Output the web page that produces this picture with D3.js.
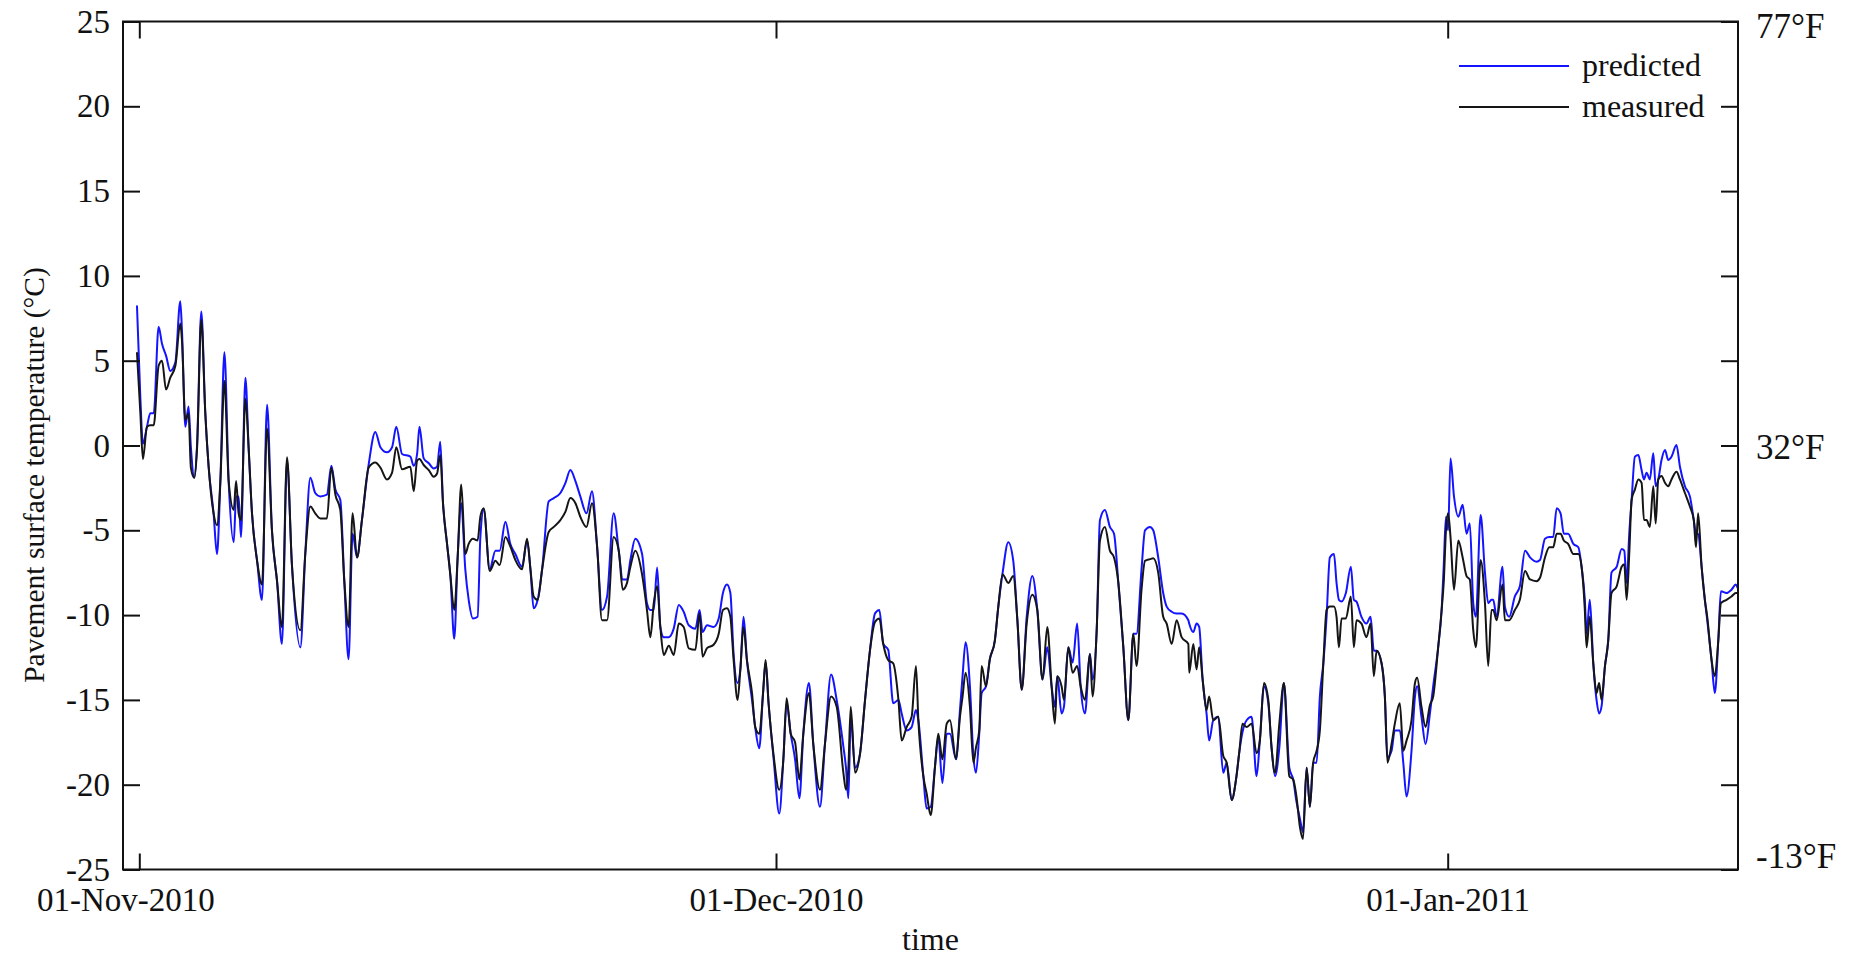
<!DOCTYPE html>
<html><head><meta charset="utf-8">
<script src="https://cdn.jsdelivr.net/npm/d3@7"></script>
<style>
body{margin:0;background:#fff}
svg{display:block}
text{font-family:"Liberation Serif","Times New Roman",serif;fill:#111}
</style>
</head><body><svg id="chart" width="1858" height="957"></svg>
<script>
// time in days since 01-Nov-2010 00:00
const days = [
-0.11,0.05,0.17,0.36,0.52,0.68,0.91,1.07,1.26,1.46,1.70,1.93,2.01,2.17,2.32,2.43,2.59,2.72,2.92,3.11,3.27,3.50,3.66,3.82,4.01,4.21,4.45,4.56,4.68,4.79,5.00,5.15,5.31,5.55,5.78,6.02,6.25,6.49,6.72,6.96,7.19,7.59,7.82,8.06,8.29,8.53,8.84,9.05,9.24,9.47,9.66,9.86,10.05,10.26,10.49,10.81,11.12,11.36,11.67,11.91,12.11,12.38,
12.77,12.93,13.09,13.20,13.40,13.64,13.87,14.03,14.18,14.31,14.50,14.66,14.84,15.00,15.17,15.36,15.52,15.72,15.94,16.07,16.23,16.51,16.78,16.98,17.25,17.48,17.72,18.03,18.27,18.43,18.58,18.77,18.98,19.29,19.53,19.84,20.08,20.31,20.55,20.78,21.07,21.33,21.57,21.80,22.04,22.35,22.59,22.78,22.98,23.14,23.37,23.69,23.92,24.08,24.24,24.40,24.55,24.71,24.95,25.18,25.42,25.65,25.89,
26.20,26.40,26.54,26.75,27.06,27.30,27.50,27.69,27.85,28.00,28.19,28.32,28.47,28.63,28.87,29.02,29.21,29.39,29.51,29.65,29.89,30.15,30.34,30.49,30.68,30.88,31.08,31.26,31.52,31.72,32.03,32.26,32.54,32.80,33.11,33.23,33.34,33.45,33.65,33.88,34.11,34.34,34.57,34.77,34.95,35.18,35.41,35.65,35.80,36.03,36.26,36.46,36.57,36.80,36.95,37.14,37.34,37.49,37.68,37.88,38.03,38.31,38.49,38.61,38.75,38.95,
39.11,39.23,39.38,39.49,39.69,39.87,40.10,40.26,40.46,40.72,40.95,41.14,41.34,41.57,41.83,42.06,42.30,42.52,42.72,42.87,42.98,43.18,43.29,43.49,43.69,43.90,44.06,44.26,44.49,44.61,44.80,44.95,45.18,45.41,45.60,45.80,46.03,46.26,46.49,46.64,46.87,47.03,47.26,47.41,47.64,47.87,48.03,48.26,48.49,48.72,49.03,49.07,49.26,49.41,49.53,49.69,49.87,49.99,50.18,50.41,50.64,50.80,51.03,51.23,51.38,51.53,51.72,
51.95,52.18,52.33,52.52,52.72,52.87,53.03,53.23,53.44,53.69,53.87,54.02,54.18,54.32,54.49,54.64,54.79,54.95,55.10,55.26,55.41,55.56,55.75,55.87,55.98,56.10,56.30,56.53,56.67,56.79,57.02,57.25,57.44,57.59,57.72,57.95,58.10,58.22,58.41,58.56,58.79,58.95,59.10,59.33,59.49,59.59,59.79,59.98,60.18,60.33,60.56,60.72,60.82,60.92,61.02,61.13,61.29,61.49,61.69,61.87,62.02,62.18,62.30,62.52,62.72,62.87,63.02,
63.10,63.26,63.53,63.64,63.84,64.10,64.33,64.57,64.80,65.10,65.26,65.49,65.69,65.87,66.03,66.21,66.36,66.56,66.80,67.03,67.18,67.33,67.41,67.56,67.72,67.87,67.99,68.10,68.26,68.41,68.56,68.80,69.03,69.15,69.26,69.38,69.49,69.64,69.80,69.95,70.06,70.18,70.33,70.49,70.60,70.72,70.87,71.03,71.18,71.33,71.56,71.72,71.95,72.18,72.36,72.46,72.56,72.72,72.87,72.98,73.18,73.33,73.49,73.61,73.87,74.10,74.30,74.38
];
const predicted = [
8.25,2.8,0.1,1.1,1.9,1.9,7.0,6.0,5.3,4.4,4.9,8.5,6.8,1.1,2.3,-0.1,-1.9,0.0,7.9,1.9,-1.3,-4.0,-6.4,-2.1,5.5,-2.1,-5.7,-3.0,-3.0,-5.4,4.0,-0.1,-4.0,-6.8,-9.1,2.4,-5.0,-8.0,-11.7,-0.9,-7.0,-11.9,-6.4,-1.9,-2.8,-3.0,-2.9,-1.2,-2.6,-3.2,-8.0,-12.6,-5.2,-6.6,-4.4,-1.1,0.8,-0.1,-0.4,-0.1,1.1,-0.5,
-0.66,-1.2,-0.5,1.1,-0.76,-1.05,-1.35,-1.25,0.22,-3.4,-5.8,-7.7,-11.4,-6.6,-3.4,-7.3,-9.1,-10.2,-10.1,-5.4,-3.8,-7.3,-6.2,-6.2,-4.5,-5.8,-6.4,-7.15,-5.6,-7.3,-9.6,-9.1,-7.3,-3.3,-3.1,-2.8,-2.2,-1.45,-2.1,-3.0,-4.0,-2.7,-5.95,-9.7,-8.9,-4.0,-6.2,-7.9,-7.9,-6.75,-5.5,-6.4,-9.3,-9.7,-9.7,-7.2,-10.7,-11.3,-11.3,-10.8,-9.4,-9.8,-10.6,
-10.8,-9.7,-11.0,-10.6,-10.7,-10.2,-8.7,-8.2,-8.7,-12.25,-14.0,-13.2,-10.1,-12.65,-15.0,-16.6,-17.85,-14.6,-12.8,-15.2,-18.5,-21.7,-18.5,-15.2,-17.0,-18.5,-20.8,-17.0,-14.0,-17.6,-21.3,-17.6,-13.5,-15.0,-17.75,-19.0,-20.8,-16.0,-19.0,-18.15,-15.0,-12.05,-9.9,-9.7,-11.7,-12.05,-15.2,-15.0,-15.8,-16.8,-16.6,-15.6,-16.2,-19.5,-21.4,-21.3,-18.9,-17.2,-19.9,-17.0,-17.0,-18.5,-15.6,-13.6,-11.6,-14.2,
-18.3,-19.3,-17.0,-14.6,-14.2,-12.6,-11.5,-9.5,-7.5,-5.7,-6.8,-10.3,-14.4,-10.1,-7.7,-9.7,-13.8,-11.9,-14.2,-15.4,-13.6,-15.8,-15.4,-11.9,-12.8,-10.5,-14.2,-15.8,-12.3,-13.8,-10.9,-4.4,-3.8,-4.8,-5.2,-8.1,-11.9,-16.2,-11.1,-11.1,-7.3,-5.0,-4.8,-5.0,-6.6,-8.7,-9.5,-9.8,-9.9,-9.9,-10.3,-10.5,-11.0,-10.5,-10.7,-13.8,-15.8,-17.4,-16.2,-16.0,-19.3,-18.7,-20.9,-19.7,-18.1,-16.9,-16.2,
-16.0,-19.5,-17.4,-14.2,-15.2,-17.8,-19.5,-17.8,-14.0,-19.0,-19.7,-21.0,-22.0,-22.8,-19.0,-21.3,-18.7,-18.7,-14.8,-12.85,-10.1,-6.6,-6.4,-8.1,-9.1,-9.2,-8.7,-7.15,-9.1,-9.2,-10.1,-10.5,-10.1,-12.1,-12.1,-12.85,-14.8,-18.4,-18.0,-16.8,-16.8,-18.7,-20.7,-18.0,-14.8,-14.2,-16.0,-17.6,-15.8,-14.2,-11.9,-9.7,-7.0,-4.2,-5.0,-0.76,-3.0,-4.2,-3.5,-5.2,-4.6,-9.3,-10.1,-4.1,-7.5,-9.3,-9.1,
-9.1,-10.1,-7.15,-9.5,-10.1,-8.9,-8.3,-6.2,-6.6,-6.85,-6.75,-5.5,-5.4,-5.4,-3.7,-4.0,-5.2,-5.2,-5.8,-6.0,-7.15,-9.1,-11.1,-9.1,-12.85,-15.0,-15.8,-15.4,-13.0,-11.5,-7.5,-7.15,-6.1,-6.2,-8.1,-5.2,-3.2,-0.66,-0.56,-1.45,-2.0,-1.6,-2.0,-0.46,-2.4,-2.0,-0.86,-0.27,-0.86,-0.66,0.03,-1.25,-2.4,-3.0,-4.4,-5.2,-5.2,-7.15,-9.1,-10.3,-12.65,-14.6,-11.5,-8.6,-8.7,-8.5,-8.2,-8.4
];
const measured = [
5.5,1.9,-0.8,1.1,1.2,1.2,4.7,5.0,3.3,4.0,4.7,7.2,6.2,1.5,1.9,-1.3,-1.9,-0.2,7.4,1.9,-1.3,-4.0,-4.7,-2.1,3.8,-2.1,-3.8,-2.1,-4.0,-4.4,2.75,-0.1,-4.0,-6.8,-8.2,1.0,-5.0,-8.0,-10.7,-0.7,-7.0,-10.9,-6.4,-3.6,-4.0,-4.3,-4.3,-1.3,-2.9,-3.8,-8.0,-10.7,-4.0,-6.6,-4.4,-1.3,-1.0,-1.3,-2.0,-1.6,-0.1,-1.4,
-1.25,-2.7,-0.9,-0.8,-1.15,-1.45,-1.84,-1.65,-0.56,-3.4,-5.8,-7.7,-9.7,-6.6,-2.3,-6.4,-5.8,-5.5,-5.6,-4.2,-3.7,-7.4,-6.8,-7.05,-5.4,-5.95,-6.75,-7.3,-5.5,-7.3,-8.9,-9.1,-7.3,-5.1,-4.8,-4.4,-3.9,-3.1,-3.4,-4.2,-4.8,-3.4,-5.95,-10.3,-10.3,-5.4,-6.2,-8.5,-8.1,-7.15,-6.2,-7.6,-9.7,-11.3,-9.3,-8.3,-10.7,-12.35,-11.8,-12.35,-10.5,-10.7,-11.96,
-12.05,-9.9,-12.45,-11.95,-11.75,-11.1,-9.7,-9.6,-10.1,-12.6,-15.0,-13.2,-10.7,-12.65,-14.6,-16.6,-17.0,-14.6,-12.65,-15.2,-18.3,-20.3,-18.5,-14.9,-17.0,-17.5,-19.7,-17.0,-14.6,-17.6,-20.3,-17.6,-14.8,-15.4,-19.3,-20.3,-19.0,-15.4,-19.3,-18.15,-15.0,-12.05,-10.4,-10.2,-11.7,-12.65,-12.85,-15.0,-17.4,-16.6,-16.0,-13.0,-16.2,-19.5,-20.5,-21.8,-18.9,-17.0,-18.5,-16.4,-16.2,-18.5,-16.0,-14.8,-13.4,-15.4,
-18.7,-17.8,-16.8,-13.0,-14.2,-12.6,-11.5,-9.5,-7.6,-8.1,-7.7,-10.3,-14.4,-10.5,-8.8,-9.7,-13.8,-10.7,-14.2,-16.4,-13.6,-14.2,-15.0,-11.9,-13.4,-13.0,-14.2,-15.0,-12.3,-14.8,-10.9,-5.6,-4.8,-6.2,-6.6,-8.1,-11.9,-16.2,-11.1,-13.0,-8.5,-6.8,-6.7,-6.65,-7.5,-10.1,-10.5,-11.7,-10.3,-11.3,-11.7,-13.4,-11.7,-13.2,-11.9,-13.8,-15.6,-14.8,-16.2,-16.0,-18.3,-18.7,-20.9,-19.7,-18.1,-16.4,-16.6,
-16.4,-18.15,-17.4,-14.0,-15.0,-17.8,-19.3,-16.4,-14.0,-19.5,-19.7,-20.7,-22.5,-23.2,-19.0,-21.3,-18.7,-18.0,-16.8,-12.85,-9.7,-9.5,-9.5,-10.1,-11.9,-10.2,-10.2,-8.9,-11.9,-10.3,-10.5,-11.3,-10.5,-13.6,-12.1,-12.85,-14.8,-18.7,-17.6,-16.4,-15.2,-18.0,-17.4,-16.2,-14.0,-13.7,-15.4,-16.6,-15.3,-14.8,-11.9,-9.7,-8.0,-5.0,-4.0,-5.4,-8.5,-5.6,-6.6,-7.7,-7.9,-10.9,-11.9,-6.75,-9.3,-13.0,-9.7,
-9.7,-10.3,-8.2,-10.3,-10.3,-9.7,-9.1,-7.4,-7.9,-8.0,-7.8,-6.6,-6.0,-6.0,-5.2,-5.2,-5.6,-5.8,-6.4,-6.4,-7.15,-9.7,-11.9,-10.1,-12.85,-14.6,-14.0,-15.0,-13.0,-11.5,-8.7,-8.3,-7.15,-7.0,-9.1,-6.4,-3.2,-2.6,-2.0,-2.2,-4.4,-4.4,-4.8,-2.4,-4.6,-2.0,-1.8,-2.2,-2.4,-2.0,-1.55,-2.0,-2.8,-3.6,-4.4,-6.0,-4.0,-7.15,-9.1,-10.1,-12.65,-13.6,-11.5,-9.3,-9.1,-8.9,-8.7,-8.7
];
const seriesNames = ["predicted", "measured"];
const seriesColors = ["#1414ff", "#151515"];
const xTickDays = [0, 30, 61];           // 01-Nov-2010, 01-Dec-2010, 01-Jan-2011
const yTicks = [25, 20, 15, 10, 5, 0, -5, -10, -15, -20, -25];
const fahrenheitTicks = [25, 0, -25];
const xDomainDays = [-0.768, 30, 61, 74.40];

const svg = d3.select("#chart");
const L = 123, R = 1738, T = 21.5, B = 869.5;
const DAY = 86400000, base = Date.UTC(2010, 10, 1);
const toDate = d => new Date(base + d * DAY);

const x = d3.scaleUtc().domain(xDomainDays.map(toDate)).range([L, 776, 1447.7, R]);
const y = d3.scaleLinear().domain([-25, 25]).range([B, T]);

svg.append("defs").append("clipPath").attr("id", "clip")
  .append("rect").attr("x", L).attr("y", T).attr("width", R - L).attr("height", B - T);

const n = Math.min(days.length, predicted.length, measured.length);
const idx = d3.range(n);
const line = vals => d3.line().curve(d3.curveMonotoneX)
  .x(i => x(toDate(days[i]))).y(i => y(vals[i]))(idx);

const plot = svg.append("g").attr("clip-path", "url(#clip)");
[predicted, measured].forEach((vals, k) => {
  plot.append("path").attr("d", line(vals)).attr("fill", "none")
    .attr("stroke", seriesColors[k]).attr("stroke-width", 2).attr("stroke-linejoin", "round");
});

const fs = 33;
const xDates = xTickDays.map(toDate);
const fmt = d3.utcFormat("%d-%b-%Y");

function styleAxis(g) {
  g.select(".domain").remove();
  g.selectAll(".tick line").attr("stroke", "#111").attr("stroke-width", 2);
  g.selectAll("text").attr("font-size", fs).attr("fill", "#111")
    .attr("font-family", '"Liberation Serif","Times New Roman",serif');
}

const gb = svg.append("g").attr("transform", `translate(0,${B})`)
  .call(d3.axisBottom(x).tickValues(xDates).tickFormat(fmt).tickSizeInner(-16).tickSizeOuter(0).tickPadding(18))
  .call(styleAxis);
gb.selectAll(".tick text").filter((d, i) => i === 0).attr("dx", -14);

svg.append("g").attr("transform", `translate(0,${T})`)
  .call(d3.axisTop(x).tickValues(xDates).tickFormat("").tickSizeInner(-17).tickSizeOuter(0))
  .call(styleAxis);

svg.append("g").attr("transform", `translate(${L},0)`)
  .call(d3.axisLeft(y).tickValues(yTicks).tickFormat(d => String(d)).tickSizeInner(-17).tickSizeOuter(0).tickPadding(13))
  .call(styleAxis);

svg.append("g").attr("transform", `translate(${R},0)`)
  .call(d3.axisRight(y).tickValues(yTicks).tickFormat("").tickSizeInner(-17).tickSizeOuter(0))
  .call(styleAxis);

// frame
svg.append("rect").attr("x", L).attr("y", T).attr("width", R - L).attr("height", B - T)
  .attr("fill", "none").attr("stroke", "#111").attr("stroke-width", 2);

// Fahrenheit labels on the right
svg.selectAll("text.f").data(fahrenheitTicks).join("text").attr("class", "f")
  .attr("x", R + 18).attr("y", d => y(d))
  .attr("dy", d => d === 25 ? "0.46em" : d === -25 ? "-0.05em" : "0.39em")
  .attr("font-size", 35)
  .text(d => `${Math.round(d * 9 / 5 + 32)}°F`);

// axis titles
svg.append("text").attr("x", (L + R) / 2).attr("y", 950).attr("text-anchor", "middle")
  .attr("font-size", 32).text("time");
svg.append("text").attr("transform", `translate(44,475) rotate(-90)`).attr("text-anchor", "middle")
  .attr("font-size", 29.5).text("Pavement surface temperature (°C)");

// legend
const lg = svg.append("g");
seriesNames.forEach((name, k) => {
  const yy = 66 + k * 41;
  lg.append("line").attr("x1", 1459).attr("x2", 1569).attr("y1", yy).attr("y2", yy)
    .attr("stroke", seriesColors[k]).attr("stroke-width", 1.8);
  lg.append("text").attr("x", 1582).attr("y", yy).attr("dy", "0.3em")
    .attr("font-size", 32).text(name);
});
</script>
</body></html>
